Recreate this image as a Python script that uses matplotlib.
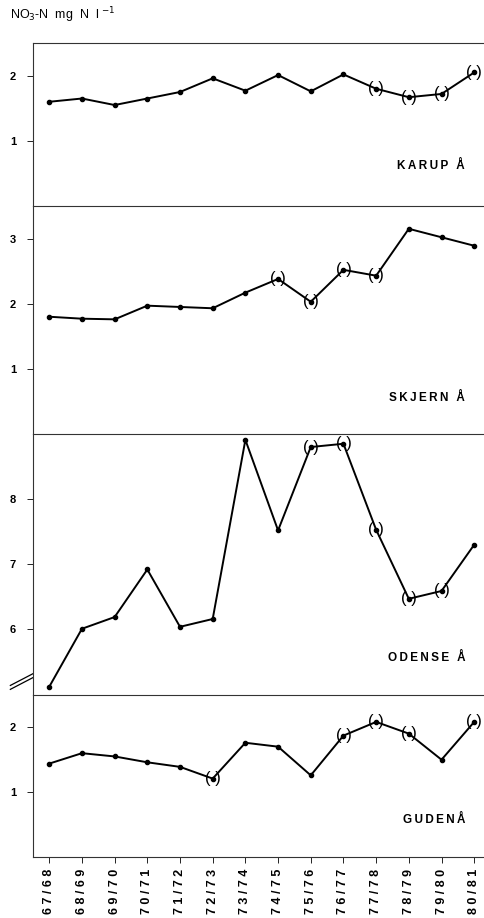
import numpy as np
import matplotlib.pyplot as plt

plt.rcParams['font.family'] = ['Liberation Sans', 'DejaVu Sans']

# Hydrological years
years = ["67/68", "68/69", "69/70", "70/71", "71/72", "72/73", "73/74",
         "74/75", "75/76", "76/77", "77/78", "78/79", "79/80", "80/81"]

# NO3-N concentrations (mg N/l) per stream
karup = [1.60, 1.65, 1.55, 1.65, 1.75, 1.96, 1.77, 2.01, 1.76, 2.02, 1.80, 1.67, 1.72, 2.05]
skjern = [1.80, 1.77, 1.76, 1.97, 1.95, 1.93, 2.17, 2.38, 2.03, 2.52, 2.43, 3.15, 3.02, 2.89]
odense = [5.12, 6.01, 6.19, 6.92, 6.04, 6.16, 8.91, 7.52, 8.80, 8.85, 7.53, 6.47, 6.59, 7.30]
gudena = [1.44, 1.60, 1.55, 1.46, 1.39, 1.21, 1.76, 1.70, 1.26, 1.87, 2.08, 1.90, 1.50, 2.08]

# indices of uncertain values (shown in brackets)
karup_unc = [10, 11, 12, 13]
skjern_unc = [7, 8, 9, 10]
odense_unc = [8, 9, 10, 11, 12]
gudena_unc = [5, 9, 10, 11, 13]

panels = [
    ("KARUP Å", karup, karup_unc, (0, 2.5), [1, 2], 0.245),
    ("SKJERN Å", skjern, skjern_unc, (0, 3.5), [1, 2, 3], 0.16),
    ("ODENSE Å", odense, odense_unc, (5, 9), [6, 7, 8], 0.142),
    ("GUDENÅ", gudena, gudena_unc, (0, 2.5), [1, 2], 0.227),
]


def spaced(s, sep="\u2009"):
    return sep.join(s)


fig = plt.figure(figsize=(4.84, 9.18), dpi=100)
gs = fig.add_gridspec(4, 1, height_ratios=[2.5, 3.5, 4, 2.5], hspace=0,
                      left=0.068, right=1.0, top=0.953, bottom=0.066)

x = np.arange(len(years))
axes = []
for i, (name, vals, unc, ylim, yt, ly) in enumerate(panels):
    ax = fig.add_subplot(gs[i])
    axes.append(ax)
    ax.plot(x, vals, color="black", lw=1.4, marker="o", ms=3, zorder=3)
    for j in unc:
        ax.text(x[j], vals[j], "( )", ha="center", va="center",
                fontsize=12, color="black", zorder=4)
    ax.set_ylim(*ylim)
    ax.set_xlim(-0.5, 13.3)
    ax.set_yticks(yt)
    ax.set_yticklabels([str(t) for t in yt], fontsize=8, fontweight="bold")
    ax.tick_params(axis="y", direction="out", length=4, width=0.6, pad=8)
    ax.spines["right"].set_visible(False)
    for s in ["left", "top", "bottom"]:
        ax.spines[s].set_linewidth(0.8)
        ax.spines[s].set_color("#333333")
    if i < 3:
        ax.spines["bottom"].set_visible(False)
        ax.tick_params(axis="x", bottom=False, labelbottom=False)
    ax.text(0.958, ly, spaced(name), transform=ax.transAxes,
            ha="right", va="center", fontsize=8.5, fontweight="bold")
    if i == 2:
        # axis break marks
        for dy in (0.0, 0.015):
            ax.plot([-0.05, -0.0], [0.02 + dy, 0.065 + dy], transform=ax.transAxes,
                    color="black", lw=0.9, clip_on=False)

ax = axes[-1]
ax.set_xticks(x)
ax.set_xticklabels([spaced(y, " ") for y in years], rotation=90, fontsize=9,
                   fontweight="bold", va="top")
ax.tick_params(axis="x", direction="out", length=4, width=0.6, pad=4)

fig.text(0.02, 0.983, r"NO$_3$-N  mg  N  l $^{-1}$", fontsize=9,
         ha="left", va="center")

fig.savefig("out.png", dpi=100)
